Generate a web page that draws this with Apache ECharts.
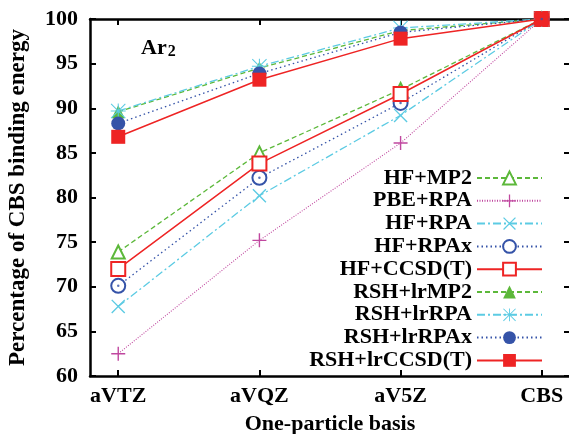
<!DOCTYPE html>
<html>
<head>
<meta charset="utf-8">
<script src="https://cdn.jsdelivr.net/npm/echarts@6/dist/echarts.min.js"></script>
<style>
  html, body { margin: 0; padding: 0; background: #fff; }
  #chart { width: 569px; height: 434px; }
</style>
</head>
<body>
<div id="chart"></div>
<script>
// One-particle basis sets (x positions 0..3)
const basisNames = ['aVTZ', 'aVQZ', 'aV5Z', 'CBS'];
const basisPos = [0, 1, 2, 3];
const yTicks = [60, 65, 70, 75, 80, 85, 90, 95, 100];

// Percentage of CBS binding energy for each method
const hfMp2 = [73.9, 85.0, 92.1, 100];
const pbeRpa = [62.5, 75.2, 86.1, 100];
const hfRpa = [67.8, 80.2, 89.2, 100];
const hfRpax = [70.1, 82.2, 90.6, 100];
const hfCcsdt = [72.0, 83.8, 91.6, 100];
const rshLrMp2 = [89.6, 94.5, 98.7, 100];
const rshLrRpa = [89.7, 94.7, 99.0, 100];
const rshLrRpax = [88.3, 93.9, 98.5, 100];
const rshLrCcsdt = [86.8, 93.2, 97.8, 100];

const FONT = '"Liberation Serif", "Times New Roman", serif';
const FS = 22;
const GREEN = '#5cb83a', PINK = '#c0479f', CYAN = '#5ccbe3', BLUE = '#3553a8', RED = '#ee2424';

const PLUS = 'path://M9,0H11V9H20V11H11V20H9V11H0V9H9Z';
const CROSS = 'path://M0,1.4L1.4,0L20,18.6L18.6,20Z M18.6,0L20,1.4L1.4,20L0,18.6Z';
const STAR = 'path://M9.3,0H10.7V9.3H20V10.7H10.7V20H9.3V10.7H0V9.3H9.3Z M0,1L1,0L20,19L19,20Z M19,0L20,1L1,20L0,19Z';

function pts(vals) { return basisPos.map((x, i) => [x, vals[i]]); }

function mk(name, vals, color, dash, symbol, size, empty, width) {
  return {
    name, type: 'line', data: pts(vals),
    symbol, symbolSize: size, showSymbol: true,
    lineStyle: { color, width: width || 1.3, type: dash },
    itemStyle: { color, borderColor: color, borderWidth: empty ? 1.4 : 0 },
    emphasis: { disabled: true },
    z: 2
  };
}

const series = [
  mk('HF+MP2', hfMp2, GREEN, [5, 3], 'emptyTriangle', 13, true),
  mk('PBE+RPA', pbeRpa, PINK, [1, 1.5], PLUS, 14, false, 1.1),
  mk('HF+RPA', hfRpa, CYAN, [8, 3, 2, 3], CROSS, 14, false),
  mk('HF+RPAx', hfRpax, BLUE, [1.5, 3], 'emptyCircle', 14, true),
  mk('HF+CCSD(T)', hfCcsdt, RED, 'solid', 'emptyRect', 14, true, 1.5),
  mk('RSH+lrMP2', rshLrMp2, GREEN, [5, 3], 'triangle', 13, false),
  mk('RSH+lrRPA', rshLrRpa, CYAN, [8, 3, 2, 3], STAR, 15, false),
  mk('RSH+lrRPAx', rshLrRpax, BLUE, [1.5, 3], 'circle', 14, false),
  mk('RSH+lrCCSD(T)', rshLrCcsdt, RED, 'solid', 'rect', 14, false, 1.5),
  // centre dots of the dotted-circle markers
  {
    name: 'HF+RPAx dot', type: 'scatter', data: pts(hfRpax),
    symbol: 'circle', symbolSize: 2.5, itemStyle: { color: BLUE },
    silent: true, z: 3
  }
];

const legendNames = series.filter(s => s.type === 'line').map(s => s.name);

const axisLine = { show: true, onZero: false, lineStyle: { color: '#000', width: 2.5 } };
const tickStyle = { inside: true, length: 6, lineStyle: { color: '#000', width: 2 } };
const boldText = { fontFamily: FONT, fontWeight: 'bold', fontSize: FS, color: '#000' };

const chart = echarts.init(document.getElementById('chart'), null, { renderer: 'canvas' });
chart.setOption({
  animation: false,
  grid: { left: 90, right: -1, top: 19, bottom: 58, containLabel: false, outerBoundsMode: 'none' },
  legend: {
    data: legendNames,
    orient: 'vertical', align: 'right',
    right: 21, top: 162,
    itemWidth: 65, itemHeight: 16, itemGap: 0.8,
    textStyle: boldText,
    selectedMode: false
  },
  xAxis: [
    {
      type: 'value', min: -0.2, max: 3.2, position: 'bottom',
      axisLine, splitLine: { show: false },
      axisTick: Object.assign({ customValues: basisPos }, tickStyle),
      axisLabel: Object.assign({
        customValues: basisPos, margin: 9,
        formatter: v => basisNames[Math.round(v)]
      }, boldText),
      name: 'One-particle basis', nameLocation: 'middle', nameGap: 37,
      nameTextStyle: boldText
    },
    {
      type: 'value', min: -0.2, max: 3.2, position: 'top',
      axisLine, splitLine: { show: false },
      axisTick: Object.assign({ customValues: basisPos }, tickStyle),
      axisLabel: { show: false }
    }
  ],
  yAxis: [
    {
      type: 'value', min: yTicks[0], max: yTicks[yTicks.length - 1], interval: 5,
      axisLine, splitLine: { show: false }, axisTick: tickStyle,
      axisLabel: Object.assign({ margin: 12 }, boldText),
      name: 'Percentage of CBS binding energy', nameLocation: 'middle', nameGap: 60,
      nameTextStyle: Object.assign({}, boldText, { fontSize: 23 })
    },
    {
      type: 'value', min: yTicks[0], max: yTicks[yTicks.length - 1], interval: 5, position: 'right',
      axisLine, splitLine: { show: false }, axisTick: tickStyle,
      axisLabel: { show: false }
    }
  ],
  graphic: [{
    type: 'text', left: 141, top: 37,
    style: {
      text: '{a|Ar}{s|2}',
      rich: {
        a: { fontFamily: FONT, fontWeight: 'bold', fontSize: FS, fill: '#000' },
        s: { fontFamily: FONT, fontWeight: 'bold', fontSize: 16, fill: '#000', padding: [8, 0, 0, 1] }
      }
    }
  }],
  series
});
</script>
</body>
</html>
